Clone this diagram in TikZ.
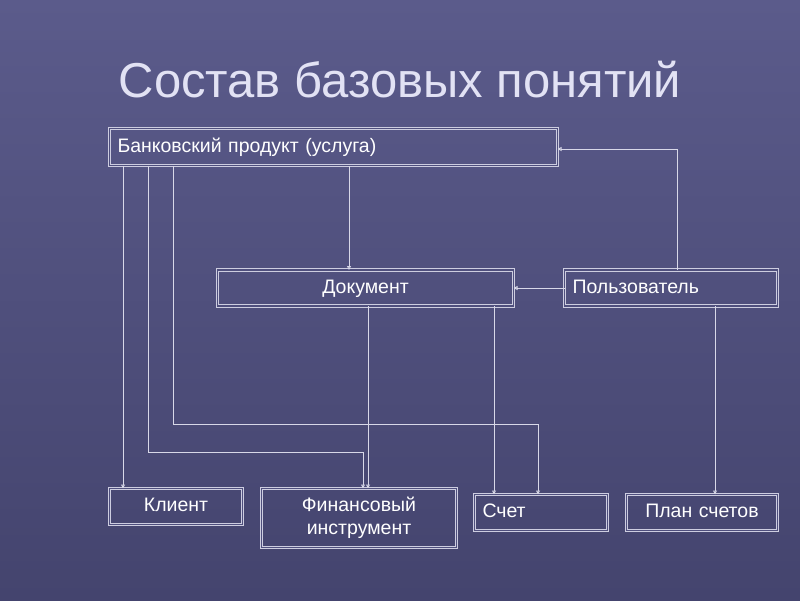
\documentclass[tikz,border=0pt]{standalone}
\usepackage{fontspec}
\setmainfont{Liberation Sans}
\usetikzlibrary{arrows.meta}
\definecolor{bgtop}{HTML}{5B5B8B}
\definecolor{bgbot}{HTML}{44446E}
\definecolor{bgmid}{HTML}{4F4F7D}
\definecolor{boxline}{HTML}{CDCDE0}
\definecolor{conline}{HTML}{D8D8E8}
\definecolor{titletext}{HTML}{E2E2F4}
\tikzset{
  blk/.style={draw=boxline, double=bgmid, double distance=1.5pt, line width=1pt,
    text=white, font=\fontsize{19.5}{23}\selectfont, inner xsep=8pt, inner ysep=0pt,
    text height=14pt, text depth=4pt,
    outer sep=0pt, minimum height=36pt},
  arr/.style={draw=conline, line width=0.9pt, -{Triangle[open,length=4pt,width=4pt]}},
}
\begin{document}
\begin{tikzpicture}[x=1pt,y=-1pt]
\shade[top color=bgtop, bottom color=bgbot] (0,0) rectangle (800,600);
\useasboundingbox (0,0) rectangle (800,600);
\node[anchor=base, text=titletext, font=\fontsize{49}{56}\selectfont] (title) at (400,97) {Состав базовых понятий};
\node[blk, text width=432pt, align=left, minimum height=37pt] (bp) at (333.5,147) {Банковский продукт (услуга)};
\node[blk, text width=280pt, align=center] (doc) at (365.5,288) {Документ};
\node[blk, text width=197pt, align=left] (usr) at (671,288) {Пользователь};
\node[blk, text width=117pt, align=center] (cli) at (176,506.5) {Клиент};
\node[blk, text width=179pt, align=center, minimum height=59pt, text height=14pt, text depth=28pt] (fin) at (359,518) {Финансовый\\инструмент};
\node[blk, text width=117pt, align=left] (acc) at (541,512.5) {Счет};
\node[blk, text width=135pt, align=center] (plan) at (702,512.5) {План счетов};
\draw[arr] ([xshift=13.5]bp.south west) -- ([xshift=13.5]cli.north west);
\draw[arr] ([xshift=38.5]bp.south west) -- ++(0,286.5) -| ([xshift=101.5]fin.north west);
\draw[arr] ([xshift=63.5]bp.south west) -- ++(0,258.5) -| ([xshift=63.5]acc.north west);
\draw[arr] ([xshift=239.5]bp.south west) -- ([xshift=131.5]doc.north west);
\draw[arr] ([xshift=150.5]doc.south west) -- ([xshift=106.5]fin.north west);
\draw[arr] ([xshift=276.5]doc.south west) -- ([xshift=19.5]acc.north west);
\draw[arr] (usr.west) -- (doc.east);
\draw[arr] ([xshift=112.5]usr.north west) |- ([yshift=-2]bp.east);
\draw[arr] ([xshift=150.5]usr.south west) -- ([xshift=88.5]plan.north west);
\end{tikzpicture}
\end{document}
